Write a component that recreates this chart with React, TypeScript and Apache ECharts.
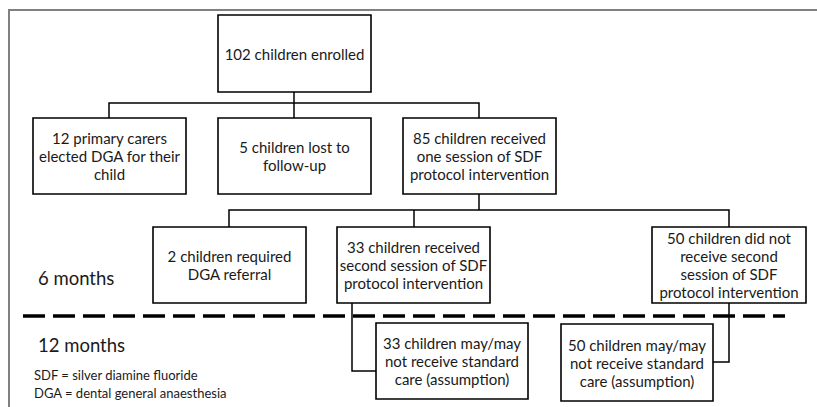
import React, { useEffect, useRef } from "react";
import * as echarts from "echarts";

// ---- Data (texts of the flow diagram) ----
const boxIds = ["enrolled", "dga", "lost", "sdf1", "referral", "sdf2", "noSdf2", "care33", "care50"];
const boxTexts = [
  "102 children enrolled",
  "12 primary carers\nelected DGA for their\nchild",
  "5 children lost to\nfollow-up",
  "85 children received\none session of SDF\nprotocol intervention",
  "2 children required\nDGA referral",
  "33 children received\nsecond session of SDF\nprotocol intervention",
  "50 children did not\nreceive second\nsession of SDF\nprotocol intervention",
  "33 children may/may\nnot receive standard\ncare (assumption)",
  "50 children may/may\nnot receive standard\ncare (assumption)",
];
const periodLabels = ["6 months", "12 months"];
const legendLines = ["SDF = silver diamine fluoride", "DGA = dental general anaesthesia"];

// ---- Layout (positions only) ----
const boxRects: Record<string, [number, number, number, number]> = {
  enrolled: [218, 15, 153, 77],
  dga: [33, 118, 153, 76],
  lost: [218, 118, 153, 76],
  sdf1: [403, 118, 153, 76],
  referral: [153, 227, 153, 76],
  sdf2: [337, 227, 153, 76],
  noSdf2: [652, 227, 154, 76],
  care33: [376, 323, 152, 76],
  care50: [561, 324, 152, 77],
};

const FONT = "Lato, 'Open Sans', sans-serif";

export default function App() {
  const ref = useRef<HTMLDivElement>(null);
  useEffect(() => {
    document.body.style.margin = "0";
    const chart = echarts.init(ref.current!, null, { renderer: "svg" });
    const els: any[] = [];
    const lineStyle = { stroke: "#000", lineWidth: 1.5, fill: null };
    const poly = (pts: number[][]) =>
      els.push({ type: "polyline", shape: { points: pts }, style: lineStyle, z: 1 });

    // outer frame
    els.push({ type: "polyline", shape: { points: [[9, 407], [9, 10], [817, 10]] }, style: { stroke: "#808080", lineWidth: 2, fill: null } });

    // connectors
    poly([[294, 92], [294, 118]]);
    poly([[109, 118], [109, 103], [479, 103], [479, 118]]);
    poly([[479, 194], [479, 210]]);
    poly([[229, 227], [229, 210], [729, 210], [729, 227]]);
    poly([[414, 210], [414, 227]]);
    poly([[352, 303], [352, 371], [376, 371]]);
    poly([[729, 303], [729, 362], [713, 362]]);

    // dashed separator
    els.push({ type: "line", shape: { x1: 23, y1: 316, x2: 785, y2: 316 }, style: { stroke: "#000", lineWidth: 3.5, lineDash: [22, 8] }, z: 2 });

    boxIds.forEach((id, i) => {
      const [x, y, w, h] = boxRects[id];
      els.push({ type: "rect", shape: { x, y, width: w, height: h }, style: { fill: "#fff", stroke: "#000", lineWidth: 1.6 }, z: 3 });
      els.push({
        type: "text", z: 4,
        style: { text: boxTexts[i], x: x + w / 2, y: y + h / 2, align: "center", verticalAlign: "middle", font: `15px ${FONT}`, fill: "#1a1a1a", lineHeight: 18 },
      });
    });

    periodLabels.forEach((t, i) => {
      els.push({ type: "text", style: { text: t, x: 38, y: i === 0 ? 278 : 345, verticalAlign: "middle", font: `18.5px ${FONT}`, fill: "#1a1a1a" } });
    });
    legendLines.forEach((t, i) => {
      els.push({ type: "text", style: { text: t, x: 34, y: 375 + i * 18, verticalAlign: "middle", font: `13px ${FONT}`, fill: "#1a1a1a" } });
    });

    chart.setOption({ animation: false, backgroundColor: "#fff", graphic: { elements: els } });
    return () => chart.dispose();
  }, []);
  return <div ref={ref} style={{ position: "absolute", left: 0, top: 0, width: 817, height: 407 }} />;
}
